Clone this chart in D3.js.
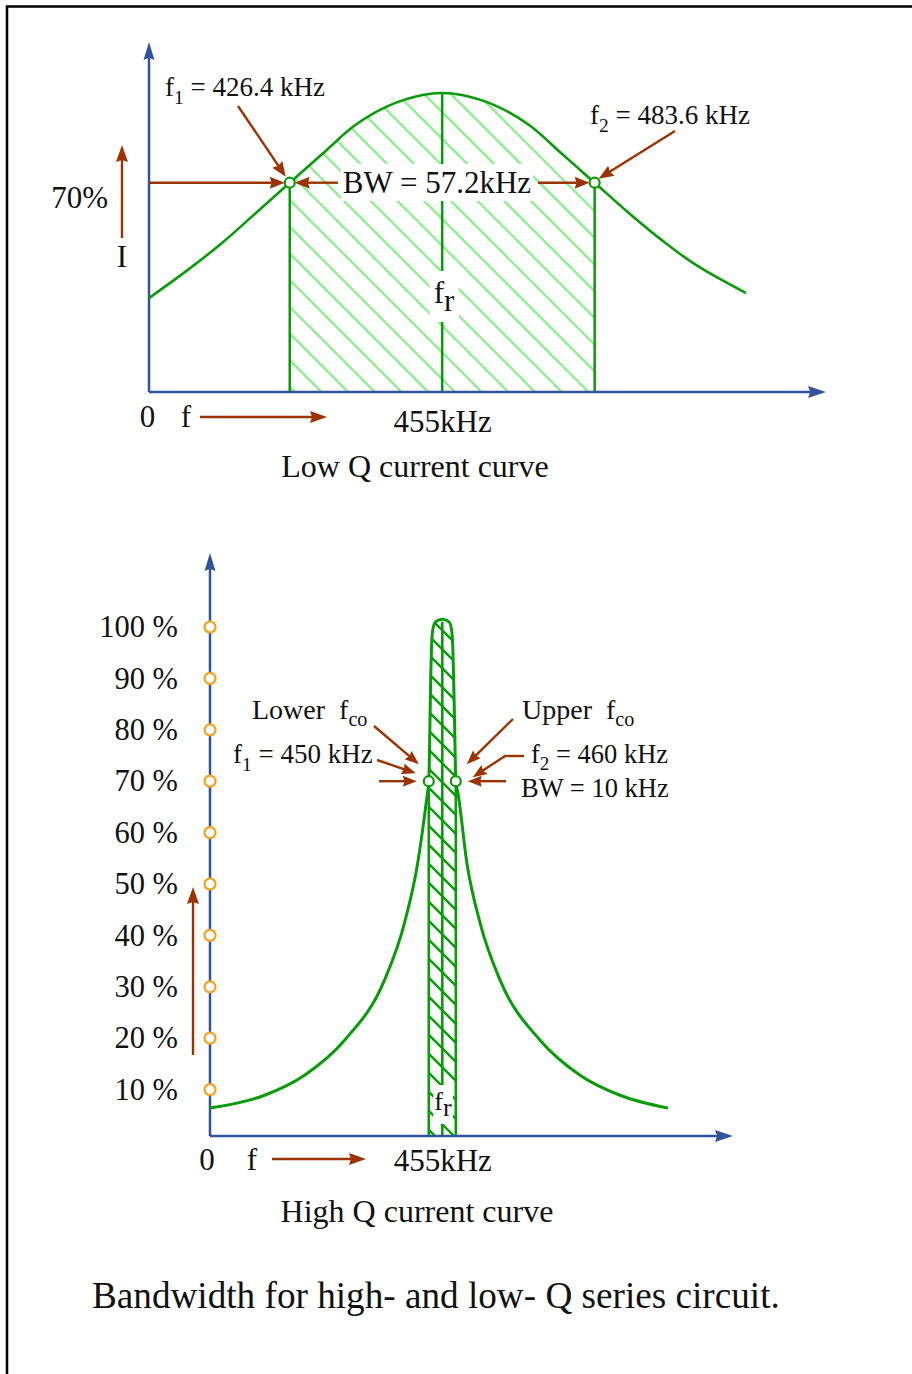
<!DOCTYPE html>
<html>
<head>
<meta charset="utf-8">
<script src="https://cdn.jsdelivr.net/npm/d3@7"></script>
<style>
  html, body { margin: 0; padding: 0; background: #fff; }
  svg { display: block; font-family: "Liberation Serif", "Times New Roman", serif; }
  text { white-space: pre; }
</style>
</head>
<body>
<svg id="chart" width="912" height="1374"></svg>
<script>
// ---- Low-Q series circuit: current (% of peak) vs frequency (kHz)
const lowQFreq    = [400, 407.4, 413.8, 420.0, 426.4, 432.5, 438.7, 444.9, 451.3, 455, 458.7, 465.1, 471.3, 477.5, 483.6, 490.0, 496.2, 502.6, 512.0];
const lowQCurrent = [31.4, 41, 50, 59.8, 70, 79.6, 89.3, 95.7, 99.3, 100, 99.3, 95.7, 89.3, 79.6, 70, 59.9, 50.8, 42.5, 33.1];
const lowQCutoffs = [426.4, 483.6];
const lowQBandwidth = 57.2;

// ---- High-Q series circuit: current (% of peak) vs frequency (kHz)
const highQFreq    = [369, 389.2, 404.0, 418.8, 433.6, 441.0, 445.9, 449.2, 450, 450.4, 450.7, 451.0, 451.5, 452.5, 455, 457.5, 458.4, 458.9, 459.2, 459.6, 460, 460.8, 464.1, 469.0, 476.4, 491.2, 506.0, 520.8, 538.6];
const highQCurrent = [6.4, 8.9, 12.8, 19.6, 31.3, 42.4, 54.1, 66.5, 70, 80, 90, 96, 99.5, 101, 101.5, 101, 99.5, 96, 90, 80, 70, 67.7, 54.1, 42.4, 31.3, 19.6, 12.8, 8.9, 6.4];
const highQCutoffs = [450, 460];
const highQBandwidth = 10;

const resonantFreq = 455;
const cutoffLevel = 70;
const percentTicks = [10, 20, 30, 40, 50, 60, 70, 80, 90, 100];

// ---- colours
const AXIS = "#30539b";
const CURVE = "#0a9b0a";
const HATCH_LIGHT = "#90ee90";
const BROWN = "#9a3300";
const ORANGE = "#f7a01c";

const svg = d3.select("#chart");

// page frame
svg.append("path")
  .attr("d", "M7,1374V6.5H912")
  .attr("fill", "none").attr("stroke", "#000").attr("stroke-width", 2.5);

function arrow(g, x1, y1, x2, y2, color, w, head, half) {
  const dx = x2 - x1, dy = y2 - y1, L = Math.hypot(dx, dy);
  const ux = dx / L, uy = dy / L;
  const bx = x2 - ux * head, by = y2 - uy * head;
  g.append("line")
    .attr("x1", x1).attr("y1", y1)
    .attr("x2", bx + ux * 2).attr("y2", by + uy * 2)
    .attr("stroke", color).attr("stroke-width", w);
  const nx = bx + ux * head * 0.12, ny = by + uy * head * 0.12;
  g.append("path")
    .attr("d", `M${x2},${y2}L${bx - uy * half},${by + ux * half}L${nx},${ny}L${bx + uy * half},${by - ux * half}Z`)
    .attr("fill", color);
}

function text(g, x, y, size, anchor) {
  return g.append("text")
    .attr("x", x).attr("y", y)
    .attr("font-size", size)
    .attr("text-anchor", anchor || "start")
    .attr("fill", "#111");
}

// label with a subscript part
function subLabel(g, x, y, size, main, sub, rest, anchor, subDy) {
  const t = text(g, x, y, size, anchor);
  const d = subDy || size * 0.28;
  t.append("tspan").text(main);
  t.append("tspan").attr("font-size", size * 0.72).attr("dy", d).text(sub);
  if (rest) t.append("tspan").attr("dy", -d).text(rest);
  return t;
}

function whiteBehind(g, t, px, py) {
  const b = t.node().getBBox();
  g.insert("rect", () => t.node())
    .attr("x", b.x - px).attr("y", b.y - py)
    .attr("width", b.width + 2 * px).attr("height", b.height + 2 * py)
    .attr("fill", "#fff");
}

const defs = svg.append("defs");

// =====================================================================
// Low-Q current curve
// =====================================================================
const xLow = d3.scaleLinear().domain([400, 527]).range([149, 826]);
const yLow = d3.scaleLinear().domain([0, 100]).range([392, 93]);
const lowPts = lowQFreq.map((f, i) => [f, lowQCurrent[i]]);
const gLow = svg.append("g");

const lowCurve = d3.curveCatmullRom.alpha(0.5);
const lowLine = d3.line().x(d => xLow(d[0])).y(d => yLow(d[1])).curve(lowCurve);
const lowArea = d3.area().x(d => xLow(d[0])).y0(yLow(0)).y1(d => yLow(d[1])).curve(lowCurve);

defs.append("clipPath").attr("id", "lowAreaClip").append("path").attr("d", lowArea(lowPts));
defs.append("clipPath").attr("id", "lowBandClip").append("rect")
  .attr("x", xLow(lowQCutoffs[0])).attr("y", 0)
  .attr("width", xLow(lowQCutoffs[1]) - xLow(lowQCutoffs[0])).attr("height", yLow(0));

// hatched pass-band
const lowHatch = gLow.append("g").attr("clip-path", "url(#lowBandClip)")
  .append("g").attr("clip-path", "url(#lowAreaClip)");
for (let c = -63 - 26.7 * 24; c < 140; c += 26.7) {
  lowHatch.append("line")
    .attr("x1", 260).attr("y1", 260 + c).attr("x2", 640).attr("y2", 640 + c)
    .attr("stroke", HATCH_LIGHT).attr("stroke-width", 2.4);
}

// cut-off and resonance verticals
lowQCutoffs.forEach(f => {
  gLow.append("line")
    .attr("x1", xLow(f)).attr("x2", xLow(f))
    .attr("y1", yLow(cutoffLevel)).attr("y2", yLow(0))
    .attr("stroke", CURVE).attr("stroke-width", 2.5);
});
gLow.append("line")
  .attr("x1", xLow(resonantFreq)).attr("x2", xLow(resonantFreq))
  .attr("y1", yLow(100)).attr("y2", yLow(0))
  .attr("stroke", CURVE).attr("stroke-width", 2.5);

// bandwidth label and fr label on white
const bwLow = text(gLow, 437, 193, 31, "middle").text(`BW = ${lowQBandwidth}kHz`);
whiteBehind(gLow, bwLow, 2, 1);
const frLow = text(gLow, 444, 303, 31, "middle");
frLow.append("tspan").text("f");
frLow.append("tspan").attr("dy", 8).text("r");
whiteBehind(gLow, frLow, 4, 4);

// axes
gLow.append("g")
  .attr("transform", `translate(0,${yLow(0)})`)
  .call(d3.axisBottom(xLow).tickValues([resonantFreq]).tickFormat(d => d + "kHz").tickSize(0).tickPadding(18))
  .call(g => g.select(".domain").remove())
  .call(g => g.selectAll("text").attr("font-size", 31).attr("font-family", '"Liberation Serif", serif').attr("fill", "#111"));
arrow(gLow, xLow(400), yLow(0), 826, yLow(0), AXIS, 2.5, 18, 6);
arrow(gLow, xLow(400), yLow(0), xLow(400), 42, AXIS, 2.5, 18, 5.5);

// curve
gLow.append("path").attr("d", lowLine(lowPts))
  .attr("fill", "none").attr("stroke", CURVE).attr("stroke-width", 2.6);

// cut-off markers
const lp1 = [xLow(lowQCutoffs[0]), yLow(cutoffLevel)];
const lp2 = [xLow(lowQCutoffs[1]), yLow(cutoffLevel)];
[lp1, lp2].forEach(p => {
  gLow.append("circle").attr("cx", p[0]).attr("cy", p[1]).attr("r", 5)
    .attr("fill", "#fff").attr("stroke", CURVE).attr("stroke-width", 2.2);
});

// annotation arrows
arrow(gLow, xLow(400), lp1[1], lp1[0] - 5, lp1[1], BROWN, 2.4, 15, 6);
arrow(gLow, 338, lp1[1], lp1[0] + 5, lp1[1], BROWN, 2.4, 15, 6);
arrow(gLow, 538, lp2[1], lp2[0] - 5, lp2[1], BROWN, 2.4, 15, 6);
arrow(gLow, 238, 106, lp1[0] - 4, lp1[1] - 6, BROWN, 2.4, 15, 6);
arrow(gLow, 675, 131, lp2[0] + 4, lp2[1] - 4, BROWN, 2.4, 15, 6);
arrow(gLow, 122, 238, 122, 145, BROWN, 2.4, 17, 6);
arrow(gLow, 200, 417, 327, 417, BROWN, 2.4, 17, 6);

// texts
subLabel(gLow, 165, 96, 27, "f", "1", ` = ${lowQCutoffs[0]} kHz`);
subLabel(gLow, 590, 124, 27, "f", "2", ` = ${lowQCutoffs[1]} kHz`);
text(gLow, 108, 208, 31, "end").text(`${cutoffLevel}%`);
text(gLow, 122, 267, 31, "middle").text("I");
text(gLow, 147.5, 427, 31, "middle").text("0");
text(gLow, 186, 427, 31, "middle").text("f");
text(gLow, 415, 477, 32, "middle").text("Low Q current curve");

// =====================================================================
// High-Q current curve
// =====================================================================
const xHigh = d3.scaleLinear().domain([369, 563]).range([210, 734]);
const yHigh = d3.scaleLinear().domain([0, 100]).range([1141, 627]);
const highBase = 1136;
const highPts = highQFreq.map((f, i) => [f, highQCurrent[i]]);
const gHigh = svg.append("g");

const highCurve = d3.curveMonotoneX;
const highLine = d3.line().x(d => xHigh(d[0])).y(d => yHigh(d[1])).curve(highCurve);
const highArea = d3.area().x(d => xHigh(d[0])).y0(highBase).y1(d => yHigh(d[1])).curve(highCurve);

defs.append("clipPath").attr("id", "highAreaClip").append("path").attr("d", highArea(highPts));
defs.append("clipPath").attr("id", "highBandClip").append("rect")
  .attr("x", xHigh(highQCutoffs[0])).attr("y", 0)
  .attr("width", xHigh(highQCutoffs[1]) - xHigh(highQCutoffs[0])).attr("height", highBase);

const highHatch = gHigh.append("g").attr("clip-path", "url(#highBandClip)")
  .append("g").attr("clip-path", "url(#highAreaClip)");
for (let c = 378 - 19 * 24; c < 760; c += 19) {
  highHatch.append("line")
    .attr("x1", 400).attr("y1", 400 + c).attr("x2", 490).attr("y2", 490 + c)
    .attr("stroke", CURVE).attr("stroke-width", 2.4);
}

highQCutoffs.forEach(f => {
  gHigh.append("line")
    .attr("x1", xHigh(f)).attr("x2", xHigh(f))
    .attr("y1", yHigh(cutoffLevel)).attr("y2", highBase)
    .attr("stroke", CURVE).attr("stroke-width", 2.6);
});
gHigh.append("line")
  .attr("x1", xHigh(resonantFreq)).attr("x2", xHigh(resonantFreq))
  .attr("y1", yHigh(101)).attr("y2", highBase)
  .attr("stroke", CURVE).attr("stroke-width", 2.6);

const frHigh = text(gHigh, 443, 1110, 26, "middle");
frHigh.append("tspan").text("f");
frHigh.append("tspan").attr("dy", 6).text("r");
whiteBehind(gHigh, frHigh, 1, 2);

// axes
gHigh.append("g")
  .attr("transform", `translate(0,${highBase})`)
  .call(d3.axisBottom(xHigh).tickValues([resonantFreq]).tickFormat(d => d + "kHz").tickSize(0).tickPadding(13))
  .call(g => g.select(".domain").remove())
  .call(g => g.selectAll("text").attr("font-size", 31).attr("font-family", '"Liberation Serif", serif').attr("fill", "#111"));
gHigh.append("g")
  .attr("transform", `translate(${xHigh(369)},0)`)
  .call(d3.axisLeft(yHigh).tickValues(percentTicks).tickFormat(d => d + " %").tickSize(0).tickPadding(32))
  .call(g => g.select(".domain").remove())
  .call(g => g.selectAll("text").attr("font-size", 30.5).attr("font-family", '"Liberation Serif", serif').attr("fill", "#111"));
arrow(gHigh, xHigh(369), highBase, 733, highBase, AXIS, 2.5, 18, 6);
arrow(gHigh, xHigh(369), highBase, xHigh(369), 553, AXIS, 2.5, 18, 5.5);

// tick circles on the current axis
gHigh.selectAll("circle.tick-mark").data(percentTicks).join("circle")
  .attr("class", "tick-mark")
  .attr("cx", xHigh(369)).attr("cy", d => yHigh(d)).attr("r", 5.5)
  .attr("fill", "#fff").attr("stroke", ORANGE).attr("stroke-width", 2.2);

// curve
gHigh.append("path").attr("d", highLine(highPts))
  .attr("fill", "none").attr("stroke", CURVE).attr("stroke-width", 3);

const hp1 = [xHigh(highQCutoffs[0]), yHigh(cutoffLevel)];
const hp2 = [xHigh(highQCutoffs[1]), yHigh(cutoffLevel)];
[hp1, hp2].forEach(p => {
  gHigh.append("circle").attr("cx", p[0]).attr("cy", p[1]).attr("r", 5)
    .attr("fill", "#fff").attr("stroke", CURVE).attr("stroke-width", 2.2);
});

// annotation arrows
arrow(gHigh, 374, 726, hp1[0] - 10, hp1[1] - 17, BROWN, 2.4, 14, 5.5);
arrow(gHigh, 377, 760, hp1[0] - 13, hp1[1] - 8, BROWN, 2.4, 14, 5.5);
arrow(gHigh, 379, hp1[1], hp1[0] - 12, hp1[1], BROWN, 2.4, 14, 5.5);
arrow(gHigh, 513, 719, hp2[0] + 11, hp2[1] - 17, BROWN, 2.4, 14, 5.5);
gHigh.append("line").attr("x1", 524).attr("y1", 756).attr("x2", 504).attr("y2", 756)
  .attr("stroke", BROWN).attr("stroke-width", 2.4);
arrow(gHigh, 505, 756, hp2[0] + 17, hp2[1] - 4, BROWN, 2.4, 14, 5.5);
arrow(gHigh, 506, hp2[1], hp2[0] + 12, hp2[1], BROWN, 2.4, 14, 5.5);
arrow(gHigh, 193, 1055, 193, 887, BROWN, 2.4, 17, 6);
arrow(gHigh, 272, 1159, 366, 1159, BROWN, 2.4, 17, 6);

// texts
subLabel(gHigh, 252, 719, 28, "Lower  f", "co", null, "start", 7);
subLabel(gHigh, 233, 763, 27, "f", "1", ` = ${highQCutoffs[0]} kHz`);
subLabel(gHigh, 522, 719, 28, "Upper  f", "co", null, "start", 7);
subLabel(gHigh, 531, 763, 26.5, "f", "2", ` = ${highQCutoffs[1]} kHz`);
text(gHigh, 521, 797, 26.5, "start").text(`BW = ${highQBandwidth} kHz`);
text(gHigh, 207, 1170, 31, "middle").text("0");
text(gHigh, 252, 1170, 31, "middle").text("f");
text(gHigh, 417, 1222, 32, "middle").text("High Q current curve");

// caption
text(svg, 92, 1308, 37.2, "start").text("Bandwidth for high- and low- Q series circuit.");
</script>
</body>
</html>
